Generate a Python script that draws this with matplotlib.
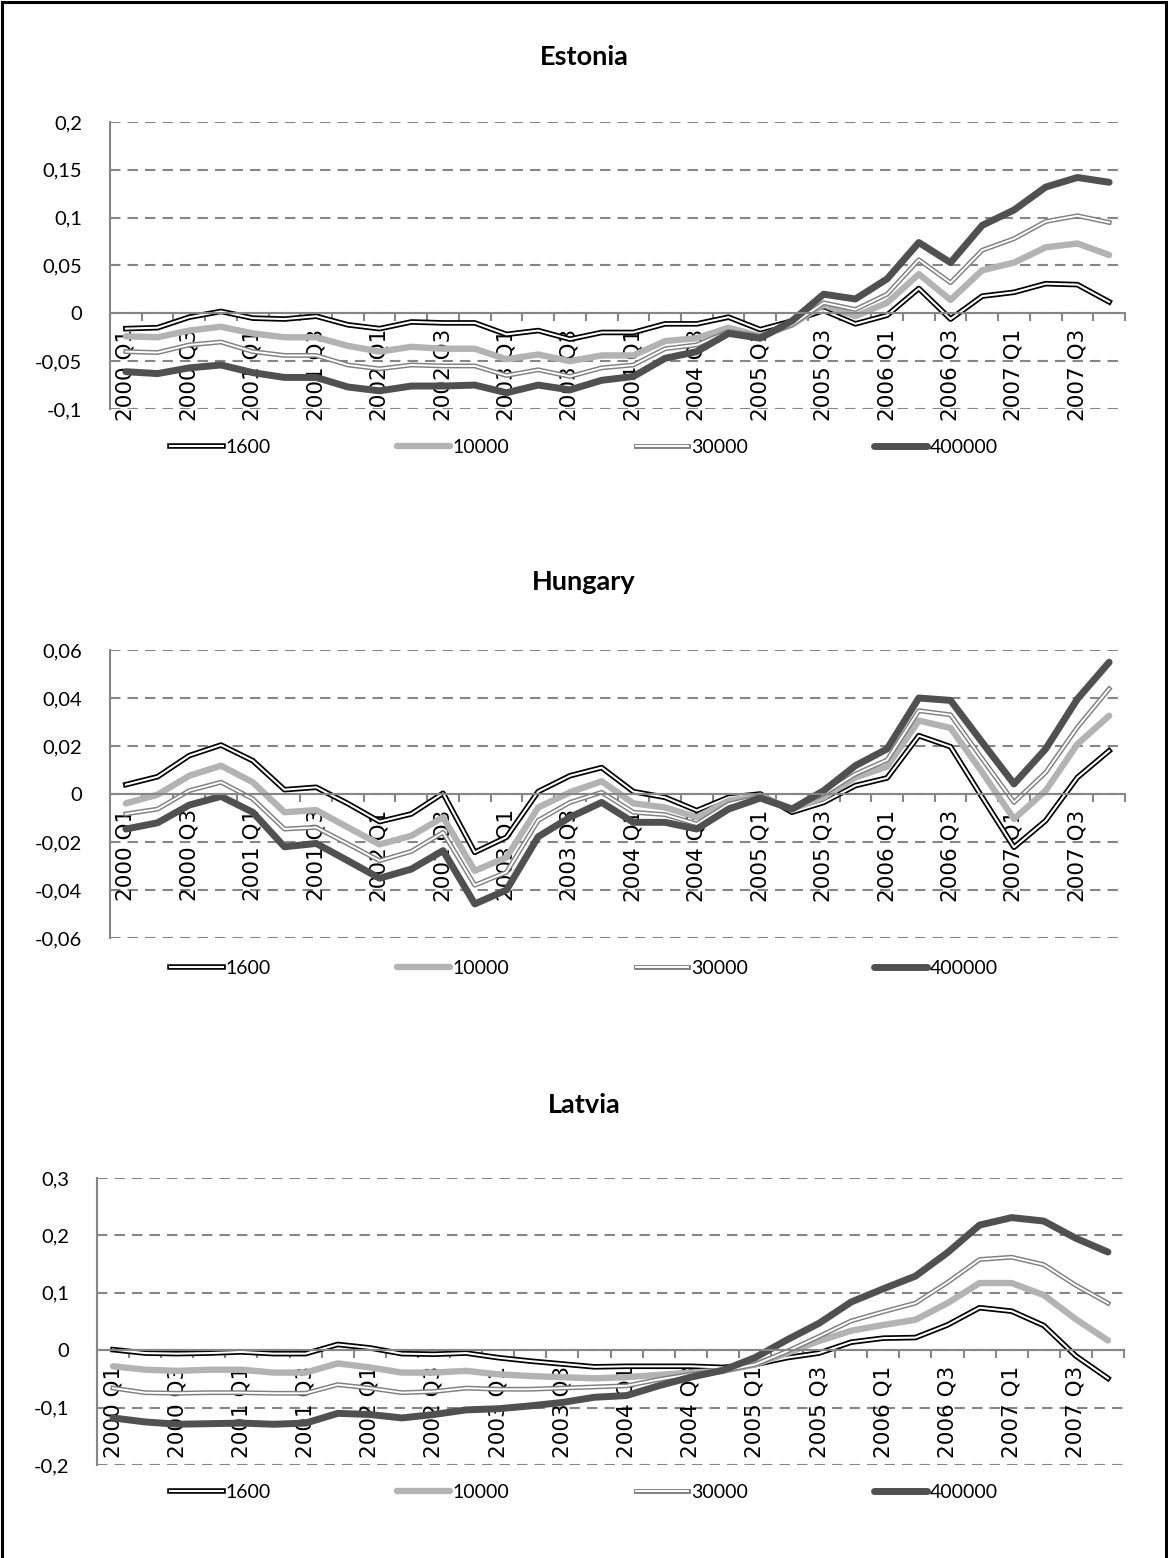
import numpy as np
import matplotlib.pyplot as plt
from matplotlib.lines import Line2D
from matplotlib.legend_handler import HandlerTuple

# ----------------------------
# Data (quarterly, 2000 Q1 - 2007 Q4)
# ----------------------------
quarters = [f"{y} Q{q}" for y in range(2000, 2008) for q in range(1, 5)]
series_names = ["1600", "10000", "30000", "400000"]

estonia_1600 = [-0.016, -0.015, -0.004, 0.002, -0.005, -0.006, -0.003, -0.012,
                -0.016, -0.009, -0.010, -0.010, -0.022, -0.018, -0.027, -0.020,
                -0.020, -0.011, -0.011, -0.004, -0.017, -0.008, 0.003, -0.011,
                -0.002, 0.026, -0.006, 0.018, 0.022, 0.031, 0.030, 0.012]
estonia_10000 = [-0.024, -0.025, -0.018, -0.014, -0.021, -0.025, -0.025, -0.034,
                 -0.040, -0.035, -0.037, -0.037, -0.048, -0.043, -0.050, -0.044,
                 -0.044, -0.029, -0.026, -0.015, -0.024, -0.012, 0.009, -0.003,
                 0.011, 0.041, 0.014, 0.045, 0.053, 0.069, 0.073, 0.061]
estonia_30000 = [-0.040, -0.041, -0.033, -0.030, -0.040, -0.044, -0.044, -0.054,
                 -0.058, -0.054, -0.055, -0.055, -0.065, -0.059, -0.066, -0.057,
                 -0.054, -0.037, -0.033, -0.019, -0.024, -0.012, 0.011, 0.004,
                 0.020, 0.056, 0.032, 0.066, 0.078, 0.096, 0.102, 0.095]
estonia_400000 = [-0.061, -0.063, -0.057, -0.054, -0.062, -0.067, -0.067, -0.077,
                  -0.081, -0.076, -0.076, -0.075, -0.083, -0.075, -0.080, -0.070,
                  -0.066, -0.047, -0.040, -0.021, -0.026, -0.008, 0.020, 0.015,
                  0.036, 0.074, 0.053, 0.092, 0.108, 0.132, 0.142, 0.137]

hungary_1600 = [0.0039, 0.0072, 0.016, 0.0204, 0.0139, 0.0018, 0.0028, -0.004,
                -0.0115, -0.0083, 0.0003, -0.0243, -0.018, 0.001, 0.0076, 0.011,
                0.001, -0.0014, -0.0069, -0.0014, 0.0, -0.0076, -0.0035, 0.0035,
                0.0067, 0.0243, 0.0197, -0.0014, -0.0222, -0.0111, 0.0069, 0.018]
hungary_10000 = [-0.0039, -0.0003, 0.0076, 0.0118, 0.0049, -0.0076, -0.0067, -0.0139,
                 -0.021, -0.0174, -0.0097, -0.032, -0.0264, -0.0056, 0.0007, 0.0053,
                 -0.0039, -0.0056, -0.0097, -0.0028, -0.0007, -0.0063, -0.0014, 0.0069,
                 0.0114, 0.0306, 0.0275, 0.009, -0.0104, 0.0014, 0.0208, 0.0326]
hungary_30000 = [-0.0083, -0.0063, 0.0014, 0.0049, -0.002, -0.0146, -0.0139, -0.0208,
                 -0.0278, -0.0239, -0.016, -0.038, -0.0326, -0.011, -0.0035, 0.0007,
                 -0.0076, -0.0086, -0.0125, -0.0042, -0.0011, -0.0058, 0.0, 0.0083,
                 0.0142, 0.0347, 0.033, 0.0146, -0.0035, 0.009, 0.0278, 0.0438]
hungary_400000 = [-0.0146, -0.012, -0.0046, -0.001, -0.0076, -0.022, -0.0206, -0.0278,
                  -0.0351, -0.0313, -0.0236, -0.0458, -0.040, -0.0178, -0.0097, -0.0035,
                  -0.0118, -0.0118, -0.0146, -0.0063, -0.0017, -0.0063, 0.0014, 0.0118,
                  0.0188, 0.040, 0.039, 0.0215, 0.0042, 0.0188, 0.0396, 0.0549]

latvia_1600 = [0.001, -0.005, -0.006, -0.005, -0.003, -0.006, -0.006, 0.010,
               0.004, -0.006, -0.007, -0.005, -0.013, -0.019, -0.024, -0.029,
               -0.028, -0.028, -0.028, -0.030, -0.025, -0.013, -0.005, 0.014,
               0.021, 0.022, 0.044, 0.074, 0.068, 0.043, -0.010, -0.049]
latvia_10000 = [-0.028, -0.034, -0.036, -0.034, -0.034, -0.039, -0.039, -0.023,
                -0.030, -0.039, -0.039, -0.036, -0.042, -0.045, -0.047, -0.049,
                -0.047, -0.043, -0.039, -0.036, -0.025, -0.005, 0.016, 0.034,
                0.044, 0.053, 0.082, 0.117, 0.117, 0.096, 0.054, 0.017]
latvia_30000 = [-0.066, -0.074, -0.075, -0.074, -0.074, -0.075, -0.075, -0.060,
                -0.066, -0.074, -0.072, -0.066, -0.068, -0.068, -0.066, -0.064,
                -0.062, -0.051, -0.042, -0.036, -0.025, -0.002, 0.024, 0.051,
                0.067, 0.082, 0.118, 0.158, 0.162, 0.149, 0.113, 0.082]
latvia_400000 = [-0.118, -0.125, -0.129, -0.128, -0.127, -0.129, -0.127, -0.110,
                 -0.112, -0.118, -0.112, -0.104, -0.102, -0.097, -0.091, -0.082,
                 -0.079, -0.062, -0.047, -0.035, -0.013, 0.018, 0.047, 0.084,
                 0.107, 0.129, 0.170, 0.218, 0.231, 0.225, 0.195, 0.171]

estonia_ticks = [0.2, 0.15, 0.1, 0.05, 0, -0.05, -0.1]
estonia_labels = ["0,2", "0,15", "0,1", "0,05", "0", "-0,05", "-0,1"]
hungary_ticks = [0.06, 0.04, 0.02, 0, -0.02, -0.04, -0.06]
hungary_labels = ["0,06", "0,04", "0,02", "0", "-0,02", "-0,04", "-0,06"]
latvia_ticks = [0.3, 0.2, 0.1, 0, -0.1, -0.2]
latvia_labels = ["0,3", "0,2", "0,1", "0", "-0,1", "-0,2"]

# ----------------------------
# Layout (pixel based)
# ----------------------------
W, H = 1168, 1558
GRID = "#868686"
BODY_FONT = ["Lato", "DejaVu Sans"]

panels = [
    # name, series, ticks, labels, (left, right, top, bottom), title_y, legend_y
    ("Estonia", [estonia_1600, estonia_10000, estonia_30000, estonia_400000],
     estonia_ticks, estonia_labels, (110, 1125, 122, 409), 57, 447),
    ("Hungary", [hungary_1600, hungary_10000, hungary_30000, hungary_400000],
     hungary_ticks, hungary_labels, (110, 1125, 650, 938), 582, 968),
    ("Latvia", [latvia_1600, latvia_10000, latvia_30000, latvia_400000],
     latvia_ticks, latvia_labels, (97, 1124, 1178, 1465), 1105, 1492),
]


def draw_series(ax, x, y, name):
    # returns the artists used for the legend handle
    if name == "1600":
        a = ax.plot(x, y, color="black", lw=4.0, solid_joinstyle="round")[0]
        b = ax.plot(x, y, color="white", lw=1.5, solid_joinstyle="round")[0]
        return (a, b)
    if name == "30000":
        a = ax.plot(x, y, color="#7f7f7f", lw=3.5, solid_joinstyle="round")[0]
        b = ax.plot(x, y, color="white", lw=1.4, solid_joinstyle="round")[0]
        return (a, b)
    if name == "10000":
        return ax.plot(x, y, color="#b3b3b3", lw=4.6, solid_joinstyle="round",
                       solid_capstyle="round")[0]
    return ax.plot(x, y, color="#505050", lw=5.0, solid_joinstyle="round",
                   solid_capstyle="round")[0]


fig = plt.figure(figsize=(W / 100, H / 100), dpi=100)
x = np.arange(len(quarters))

for name, data, ticks, labels, (l, r, t, b), title_y, legend_y in panels:
    ax = fig.add_axes([l / W, 1 - b / H, (r - l) / W, (b - t) / H])
    ax.set_xlim(-0.5, len(quarters) - 0.5)
    ax.set_ylim(min(ticks), max(ticks))

    for tk in ticks:
        ax.axhline(tk, color=GRID, lw=1.5, linestyle=(0, (5, 3.4)), zorder=0)

    handles = []
    for s_name, vals in zip(series_names, data):
        handles.append(draw_series(ax, x, vals, s_name))

    # axes styling
    for side in ["top", "right"]:
        ax.spines[side].set_visible(False)
    ax.spines["left"].set_color(GRID)
    ax.spines["left"].set_linewidth(1.5)
    ax.spines["bottom"].set_position(("data", 0))
    ax.spines["bottom"].set_color(GRID)
    ax.spines["bottom"].set_linewidth(1.5)

    ax.set_yticks(ticks)
    ax.set_yticklabels(labels, family=BODY_FONT, fontsize=14.5)
    ax.tick_params(axis="y", length=0, pad=20)

    ax.set_xticks(np.arange(-0.5, len(quarters), 1))
    ax.set_xticklabels([])
    ax.tick_params(axis="x", which="major", length=6, width=1.5, color=GRID, direction="out")
    ax.set_xticks(x[::2], minor=True)
    ax.set_xticklabels(quarters[::2], minor=True, rotation=90, fontsize=15.5,
                       family="DejaVu Sans", va="top", ha="center")
    ax.tick_params(axis="x", which="minor", length=0, pad=11)

    fig.text(0.5, 1 - title_y / H, name, ha="center", va="center",
             fontsize=19.5, fontweight="bold", family=BODY_FONT)

    fig.legend(handles, series_names, loc="center", bbox_to_anchor=(0.5, 1 - legend_y / H),
               ncol=4, frameon=False, prop={"family": BODY_FONT, "size": 14},
               handlelength=2.7, handletextpad=0.15, columnspacing=6.5,
               handler_map={tuple: HandlerTuple(ndivide=1)})

# frame around the figure (left, top, right)
for xs, ys in [([2 / W, 2 / W], [0, 1 - 2 / H]),
               ([2 / W, 1 - 2 / W], [1 - 2 / H, 1 - 2 / H]),
               ([1 - 2 / W, 1 - 2 / W], [1 - 2 / H, 0])]:
    fig.add_artist(Line2D(xs, ys, color="black", lw=2.2, transform=fig.transFigure))

fig.savefig("out.png", dpi=100)
